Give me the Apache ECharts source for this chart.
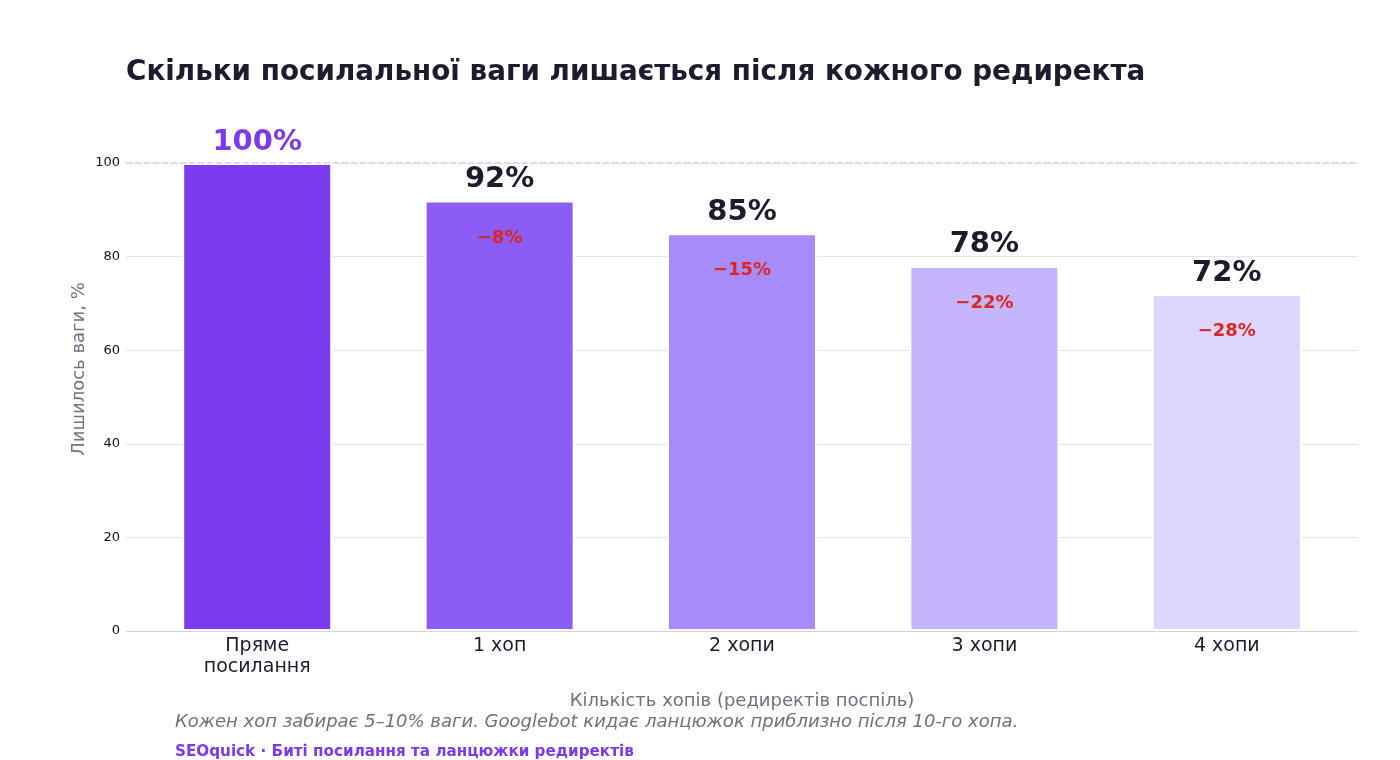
<!DOCTYPE html>
<html>
<head>
<meta charset="utf-8">
<script src="https://cdn.jsdelivr.net/npm/echarts@6/dist/echarts.min.js"></script>
<style>
html,body{margin:0;padding:0;background:#fff;}
#chart{width:1400px;height:760px;}
</style>
</head>
<body>
<div id="chart"></div>
<script>
const categories = ['Пряме\nпосилання', '1 хоп', '2 хопи', '3 хопи', '4 хопи'];
const remaining = [100, 92, 85, 78, 72];
const drops = ['', '−8%', '−15%', '−22%', '−28%'];
const barColors = ['#7c3aed', '#8b5cf6', '#a78bfa', '#c4b5fd', '#ddd6fe'];
const valueLabelColors = ['#7c3aed', '#1e1b2e', '#1e1b2e', '#1e1b2e', '#1e1b2e'];
const yTicks = [0, 20, 40, 60, 80, 100];

const FONT = 'DejaVu Sans';
const chart = echarts.init(document.getElementById('chart'), null, {renderer: 'canvas'});

const mainData = remaining.map((v, i) => ({
  value: v,
  itemStyle: {color: barColors[i]},
  label: {color: valueLabelColors[i]}
}));
const dropData = remaining.map((v, i) => ({value: v}));

const option = {
  backgroundColor: '#ffffff',
  animation: false,
  textStyle: {fontFamily: FONT},
  grid: [
    {left: 126, right: 42, top: 163, bottom: 129, containLabel: false},
    {left: 136, right: 52, top: 163, bottom: 129, containLabel: false}
  ],
  xAxis: [
    {
      gridIndex: 0, type: 'value', min: 0, max: 1,
      axisLine: {show: true, lineStyle: {color: '#d4d4d8', width: 1}},
      axisTick: {show: false}, axisLabel: {show: false}, splitLine: {show: false}
    },
    {
      gridIndex: 1, type: 'category', data: categories,
      axisLine: {show: false}, axisTick: {show: false},
      axisLabel: {fontFamily: FONT, fontSize: 19, color: '#1e1b2e', margin: 5, lineHeight: 21}
    }
  ],
  yAxis: [
    {
      gridIndex: 0, type: 'value', min: yTicks[0], max: yTicks[yTicks.length - 1], interval: 20,
      axisLine: {show: false}, axisTick: {show: false},
      axisLabel: {fontFamily: FONT, fontSize: 13, color: '#111111', margin: 6},
      splitLine: {show: true, lineStyle: {color: '#e6e6ea', width: 1}}
    },
    {
      gridIndex: 1, type: 'value', min: 0, max: 100, show: false
    }
  ],
  series: [
    {
      type: 'line', xAxisIndex: 0, yAxisIndex: 0, data: [], z: 1, silent: true,
      markLine: {
        symbol: 'none', silent: true, label: {show: false},
        lineStyle: {type: [6, 3], color: '#dedbf0', width: 2},
        data: [{yAxis: 100}]
      }
    },
    {
      type: 'bar', xAxisIndex: 1, yAxisIndex: 1, data: mainData, z: 3,
      barWidth: 150, barGap: '-100%',
      itemStyle: {borderColor: '#ffffff', borderWidth: 2},
      label: {
        show: true, position: 'top', distance: 6.5,
        fontFamily: FONT, fontSize: 29, fontWeight: 'bold',
        formatter: p => p.value + '%'
      }
    },
    {
      type: 'bar', xAxisIndex: 1, yAxisIndex: 1, data: dropData, z: 4,
      barWidth: 150, barGap: '-100%', silent: true,
      itemStyle: {color: 'rgba(0,0,0,0)', borderWidth: 0},
      label: {
        show: true, position: 'insideTop', distance: 28.5,
        fontFamily: FONT, fontSize: 18, fontWeight: 'bold', color: '#dc2626',
        formatter: p => drops[p.dataIndex]
      }
    }
  ],
  graphic: [
    {
      type: 'text', left: 126, top: 59,
      style: {text: 'Скільки посилальної ваги лишається після кожного редиректа',
        fontFamily: FONT, fontSize: 27.8, fontWeight: 'bold', fill: '#1e1b2e'}
    },
    {
      type: 'text', x: 79, y: 369, rotation: Math.PI / 2,
      style: {text: 'Лишилось ваги, %', align: 'center', verticalAlign: 'middle',
        fontFamily: FONT, fontSize: 18, fill: '#6b7280'}
    },
    {
      type: 'text', x: 742, y: 701,
      style: {text: 'Кількість хопів (редиректів поспіль)', align: 'center', verticalAlign: 'middle',
        fontFamily: FONT, fontSize: 18, fill: '#6b7280'}
    },
    {
      type: 'text', x: 175, y: 722,
      style: {text: 'Кожен хоп забирає 5–10% ваги. Googlebot кидає ланцюжок приблизно після 10-го хопа.',
        verticalAlign: 'middle', fontFamily: FONT, fontSize: 18, fontStyle: 'italic', fill: '#6b7280'}
    },
    {
      type: 'text', x: 175, y: 752,
      style: {text: 'SEOquick · Биті посилання та ланцюжки редиректів',
        verticalAlign: 'middle', fontFamily: FONT, fontSize: 15.2, fontWeight: 'bold', fill: '#7c3aed'}
    }
  ]
};
chart.setOption(option);
</script>
</body>
</html>
